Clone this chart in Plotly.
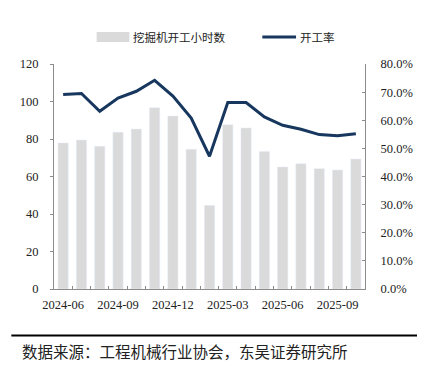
import plotly.graph_objects as go

months = ["2024-06", "2024-07", "2024-08", "2024-09", "2024-10", "2024-11", "2024-12",
          "2025-01", "2025-02", "2025-03", "2025-04", "2025-05", "2025-06", "2025-07",
          "2025-08", "2025-09", "2025-10"]
hours = [77.9, 79.5, 76.1, 83.6, 85.3, 96.7, 92.3, 74.5, 44.6, 87.6, 85.9, 73.4, 65.1,
         66.8, 64.2, 63.5, 69.3]
rate = [0.692, 0.695, 0.632, 0.679, 0.703, 0.742, 0.686, 0.608, 0.472, 0.663, 0.663,
        0.612, 0.582, 0.568, 0.549, 0.545, 0.552]
tick_labels = ["2024-06", "2024-09", "2024-12", "2025-03", "2025-06", "2025-09"]
bar_name = "挖掘机开工小时数"
line_name = "开工率"
source_text = "数据来源：工程机械行业协会，东吴证券研究所"

BAR_COLOR = "#dadada"
LINE_COLOR = "#17375e"
AXIS_COLOR = "#8c8c8c"
SERIF = "Liberation Serif, Times New Roman, serif"
CJK = "Noto Sans CJK SC"

fig = go.Figure()
fig.add_trace(go.Bar(x=months, y=hours, name=bar_name, marker_color=BAR_COLOR,
                     width=0.56, yaxis="y", showlegend=False))
fig.add_trace(go.Scatter(x=months, y=rate, name=line_name, mode="lines",
                         line=dict(color=LINE_COLOR, width=3), yaxis="y2",
                         showlegend=False))

ticktext = [m if m in tick_labels else "" for m in months]

OFF = 8  # page body margin
W, H = 425 - OFF, 374 - OFF
# plot area in window pixels
PX0, PX1, PY0, PY1 = 53, 366.5, 64, 289
L = PX0 - OFF
T = PY0 - OFF
R = W - (PX1 - OFF)
B = H - (PY1 - OFF)
pw, ph = PX1 - PX0, PY1 - PY0

def px(x):
    return (x - PX0) / pw

def py(y):
    return (PY1 - y) / ph

fig.update_layout(
    width=W, height=H,
    margin=dict(l=L, r=R, t=T, b=B, pad=0),
    paper_bgcolor="white", plot_bgcolor="white",
    xaxis=dict(type="category", range=[-0.5, len(months) - 0.5],
               tickmode="array", tickvals=months, ticktext=ticktext,
               tickson="boundaries", ticks="inside", ticklen=3, tickcolor=AXIS_COLOR,
               showline=True, linecolor=AXIS_COLOR, linewidth=1, showgrid=False,
               tickangle=0, tickfont=dict(family=SERIF, size=12.5, color="#222"),
               ticklabelstandoff=4),
    yaxis=dict(range=[0, 120], dtick=20, showgrid=False, zeroline=False,
               showline=True, linecolor=AXIS_COLOR, linewidth=1,
               ticks="outside", ticklen=3, tickcolor=AXIS_COLOR,
               tickfont=dict(family=SERIF, size=12.5, color="#222"),
               ticklabelstandoff=9),
    yaxis2=dict(range=[0, 0.8], dtick=0.1, tickformat=".1%", overlaying="y",
                side="right", showgrid=False, zeroline=False,
                showline=True, linecolor=AXIS_COLOR, linewidth=1,
                ticks="inside", ticklen=3, tickcolor=AXIS_COLOR,
                tickfont=dict(family=SERIF, size=12.5, color="#222"),
                ticklabelstandoff=12),
    shapes=[
        dict(type="rect", xref="paper", yref="paper",
             x0=px(96), x1=px(129), y0=py(42), y1=py(32),
             fillcolor=BAR_COLOR, line=dict(width=0)),
        dict(type="line", xref="paper", yref="paper",
             x0=px(263), x1=px(297), y0=py(37), y1=py(37),
             line=dict(color=LINE_COLOR, width=3)),
        dict(type="line", xref="paper", yref="paper",
             x0=px(10), x1=px(425), y0=py(335.5), y1=py(335.5),
             line=dict(color="black", width=2)),
    ],
    annotations=[
        dict(text=bar_name, xref="paper", yref="paper", x=px(131), y=py(37),
             xanchor="left", yanchor="middle", showarrow=False,
             font=dict(family=CJK, size=11.5, color="#222")),
        dict(text=line_name, xref="paper", yref="paper", x=px(299), y=py(37),
             xanchor="left", yanchor="middle", showarrow=False,
             font=dict(family=CJK, size=11.5, color="#222")),
        dict(text=source_text, xref="paper", yref="paper", x=px(19), y=py(351),
             xanchor="left", yanchor="middle", showarrow=False,
             font=dict(family=CJK, size=15.5, color="#222")),
    ],
)

fig.write_html("out.html")
